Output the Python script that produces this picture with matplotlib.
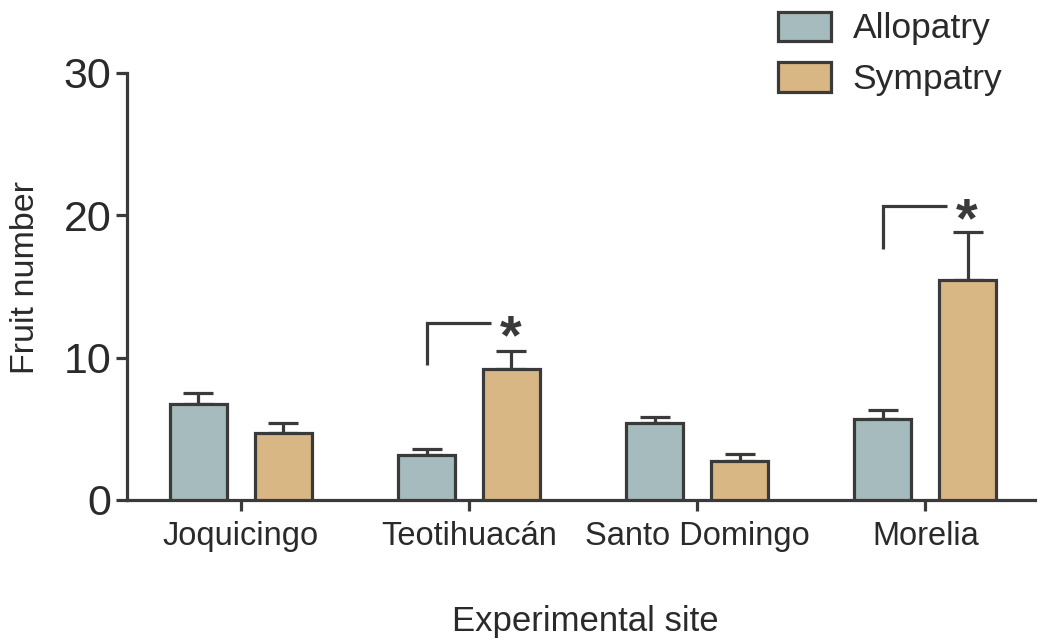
import numpy as np
import matplotlib
matplotlib.use("Agg")
import matplotlib.pyplot as plt

plt.rcParams['font.family'] = ['Liberation Sans', 'DejaVu Sans']

# fruit number per site (mean and upper SE)
sites = ["Joquicingo", "Teotihuacán", "Santo Domingo", "Morelia"]
allopatry = [6.72, 3.16, 5.43, 5.67]
allopatry_err = [0.82, 0.42, 0.42, 0.65]
sympatry = [4.68, 9.18, 2.74, 15.46]
sympatry_err = [0.75, 1.31, 0.49, 3.32]

# significance brackets: site index, bracket bottom, bracket top
sig_sites = [1, 3]
sig_low = [9.5, 17.6]
sig_high = [12.45, 20.65]

c_allo = "#a5bbbd"
c_sym = "#d9b784"
dark = "#3a3a3a"
txt = "#2a2a2a"

fig = plt.figure(figsize=(10.39, 6.41), dpi=100)
ax = fig.add_axes([0.122, 0.22, 0.874, 0.6666])

x = np.arange(len(sites))
w = 0.25
off = 0.186
ax.bar(x - off, allopatry, w, color=c_allo, edgecolor=dark, linewidth=2.3,
       label="Allopatry", zorder=3)
ax.bar(x + off, sympatry, w, color=c_sym, edgecolor=dark, linewidth=2.3,
       label="Sympatry", zorder=3)
ax.errorbar(x - off, allopatry, yerr=[np.zeros(4), allopatry_err], fmt="none",
            ecolor=dark, elinewidth=2.3, capsize=11, capthick=2.3, zorder=2)
ax.errorbar(x + off, sympatry, yerr=[np.zeros(4), sympatry_err], fmt="none",
            ecolor=dark, elinewidth=2.3, capsize=11, capthick=2.3, zorder=2)

for i, lo, hi in zip(sig_sites, sig_low, sig_high):
    ax.plot([i - off, i - off, i + 0.095], [lo, hi, hi], color=dark,
            lw=2.3, solid_capstyle="butt", solid_joinstyle="miter")
    ax.text(i + off - 0.005, hi - 3.0, "*", ha="center", va="bottom",
            fontsize=40, fontweight="bold", color=dark)

ax.set_xlim(-0.5, 3.48)
ax.set_ylim(0, 30)
ax.set_yticks([0, 10, 20, 30])
ax.set_xticks(x)
ax.set_xticklabels(sites)
for s in ["top", "right"]:
    ax.spines[s].set_visible(False)
for s in ["left", "bottom"]:
    ax.spines[s].set_linewidth(2.3)
    ax.spines[s].set_color(dark)
ax.tick_params(axis="y", length=8, width=2.3, color=dark, labelsize=31,
               labelcolor=txt, pad=3)
ax.tick_params(axis="x", length=8, width=2.3, color=dark, labelsize=23.5,
               labelcolor=txt, pad=7)

ax.set_ylabel("Fruit number", fontsize=24.5, color=txt)
ax.yaxis.set_label_coords(-0.094, 0.52)
ax.set_xlabel("Experimental site", fontsize=25, color=txt)
ax.xaxis.set_label_coords(0.505, -0.245)

fig.legend(loc="upper left", bbox_to_anchor=(0.749, 0.982), frameon=False,
           fontsize=25.5, handlelength=1.5, handleheight=0.9,
           handletextpad=0.6, labelspacing=0.48, borderpad=0,
           borderaxespad=0, labelcolor=txt)

fig.savefig("out.png", dpi=100)
